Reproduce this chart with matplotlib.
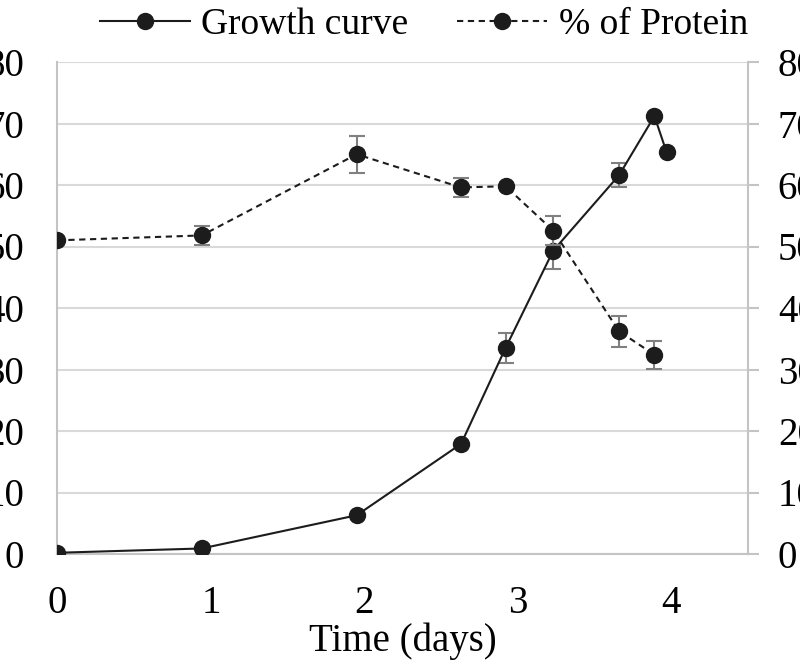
import matplotlib
matplotlib.use("Agg")
import matplotlib.pyplot as plt
import numpy as np

# ---- data ----
growth_x = [0.0, 0.94, 1.95, 2.63, 2.92, 3.23, 3.66, 3.89, 3.97]
growth_y = [0.2, 0.9, 6.3, 17.9, 33.5, 49.3, 61.6, 71.2, 65.3]
growth_err = [0, 0, 0, 0, 2.4, 3.0, 2.0, 0, 0]

protein_x = [0.0, 0.94, 1.95, 2.63, 2.92, 3.23, 3.66, 3.89]
protein_y = [51.0, 51.8, 65.0, 59.6, 59.8, 52.6, 36.2, 32.4]
protein_err = [0, 1.6, 3.0, 1.6, 0, 2.3, 2.5, 2.3]

x_ticks = [0, 1, 2, 3, 4]
y_ticks = [0, 10, 20, 30, 40, 50, 60, 70, 80]
x_label = "Time (days)"
legend_labels = ["Growth curve", "% of Protein"]

plt.rcParams['font.family'] = ['Liberation Serif', 'DejaVu Serif']
FS = 28
INK = '#1c1c1c'
GRID = '#d9d9d9'
SPINE = '#c4c4c4'
ERR = '#808080'

fig = plt.figure(figsize=(8.0, 6.64), dpi=100)
ax = fig.add_axes([57.5/800, 110/664, (748-57.5)/800, (554-62)/664])
ax2 = ax.twinx()

ax.set_xlim(0, 4.5)
ax.set_ylim(0, 80)
ax2.set_ylim(0, 80)
ax.set_xticks(x_ticks)
ax.set_yticks(y_ticks)
ax2.set_yticks(y_ticks)

ax.grid(axis='y', color=GRID, lw=1.5, zorder=0)
ax.set_axisbelow(True)

ax.spines['top'].set_visible(False)
ax.spines['right'].set_visible(False)
ax.spines['left'].set_color(SPINE)
ax.spines['left'].set_linewidth(1.5)
ax.spines['bottom'].set_color(SPINE)
ax.spines['bottom'].set_linewidth(1.5)
for s in ['top', 'left', 'bottom']:
    ax2.spines[s].set_visible(False)
ax2.spines['right'].set_color(SPINE)
ax2.spines['right'].set_linewidth(1.5)

ax.tick_params(axis='x', length=0, pad=22, labelsize=FS)
ax.tick_params(axis='y', length=0, pad=24, labelsize=FS)
ax2.tick_params(axis='y', length=8, width=1.5, color=SPINE, pad=13.5, labelsize=FS)

# growth curve
gx = np.array(growth_x); gy = np.array(growth_y); ge = np.array(growth_err)
m = ge > 0
ax.errorbar(gx[m], gy[m], yerr=ge[m], fmt='none', ecolor=ERR, elinewidth=1.5,
            capsize=5.8, capthick=1.5, zorder=2)
l1, = ax.plot(gx, gy, '-', color=INK, lw=1.5, marker='o', ms=11.5,
              markerfacecolor=INK, markeredgecolor=INK, zorder=3)

# protein
px = np.array(protein_x); py = np.array(protein_y); pe = np.array(protein_err)
m = pe > 0
ax2.errorbar(px[m], py[m], yerr=pe[m], fmt='none', ecolor=ERR, elinewidth=1.5,
             capsize=5.8, capthick=1.5, zorder=2)
l2, = ax2.plot(px, py, color=INK, lw=1.5, dashes=(3, 2.2), marker='o', ms=11.5,
               markerfacecolor=INK, markeredgecolor=INK, zorder=3)

ax.set_xlabel(x_label, fontsize=FS, labelpad=1)

fig.legend([l1, l2], legend_labels, loc='upper center', bbox_to_anchor=(0.53, 1.0),
           ncol=2, frameon=False, fontsize=27, handlelength=2.4, handletextpad=0.3,
           columnspacing=1.3, borderaxespad=0, borderpad=0.2)

fig.savefig("out.png", dpi=100)
